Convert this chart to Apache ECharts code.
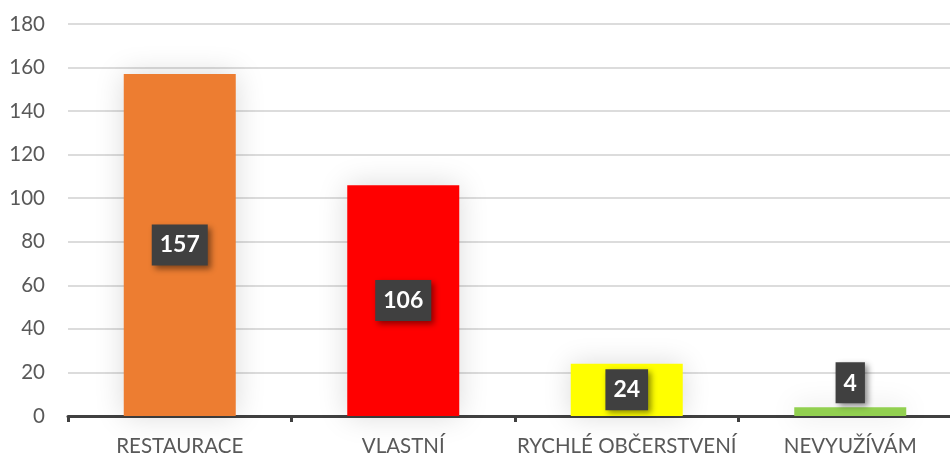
<!DOCTYPE html>
<html>
<head>
<meta charset="utf-8">
<script src="https://cdn.jsdelivr.net/npm/echarts@6/dist/echarts.min.js"></script>
<style>
  html, body { margin: 0; padding: 0; background: #fff; }
  #chart { width: 950px; height: 457px; }
</style>
</head>
<body>
<div id="chart"></div>
<script>
// data
const categories = ['RESTAURACE', 'VLASTNÍ', 'RYCHLÉ OBČERSTVENÍ', 'NEVYUŽÍVÁM'];
const values = [157, 106, 24, 4];
const barColors = ['#ED7D31', '#FF0000', '#FFFF00', '#92D050'];

const fontName = 'Lato, "Open Sans", sans-serif';

const chart = echarts.init(document.getElementById('chart'), null, { renderer: 'canvas' });

const seriesData = values.map((v, i) => {
    const item = {
        value: v,
        itemStyle: { color: barColors[i] }
    };
    // small bar -> label sits above it
    if (v < 10) {
        item.label = { position: 'top', distance: 4 };
    }
    return item;
});

chart.setOption({
    animation: false,
    grid: { left: 68, right: -12, top: 24, bottom: 41, outerBoundsMode: 'none' },
    xAxis: {
        type: 'category',
        data: categories,
        axisLine: { lineStyle: { color: '#404040', width: 3 } },
        axisTick: { show: true, length: 6, lineStyle: { color: '#404040', width: 3 } },
        axisLabel: { color: '#595959', fontSize: 20.5, fontFamily: fontName, margin: 20, interval: 0 }
    },
    yAxis: {
        type: 'value',
        min: 0,
        max: 180,
        interval: 20,
        axisLine: { show: false },
        axisTick: { show: false },
        splitLine: { lineStyle: { color: '#D0D0D0', width: 1.5 } },
        axisLabel: { color: '#595959', fontSize: 20.5, fontFamily: fontName, margin: 23 }
    },
    series: [{
        type: 'bar',
        data: seriesData,
        barWidth: 112,
        itemStyle: {
            shadowBlur: 28,
            shadowColor: 'rgba(0,0,0,0.15)'
        },
        label: {
            show: true,
            position: 'inside',
            color: '#fff',
            fontSize: 23,
            fontWeight: 'bold',
            fontFamily: fontName,
            backgroundColor: '#404040',
            padding: [10, 8, 8, 8],
            shadowBlur: 6,
            shadowOffsetX: 3,
            shadowOffsetY: 3,
            shadowColor: 'rgba(0,0,0,0.45)'
        }
    }]
});
</script>
</body>
</html>
